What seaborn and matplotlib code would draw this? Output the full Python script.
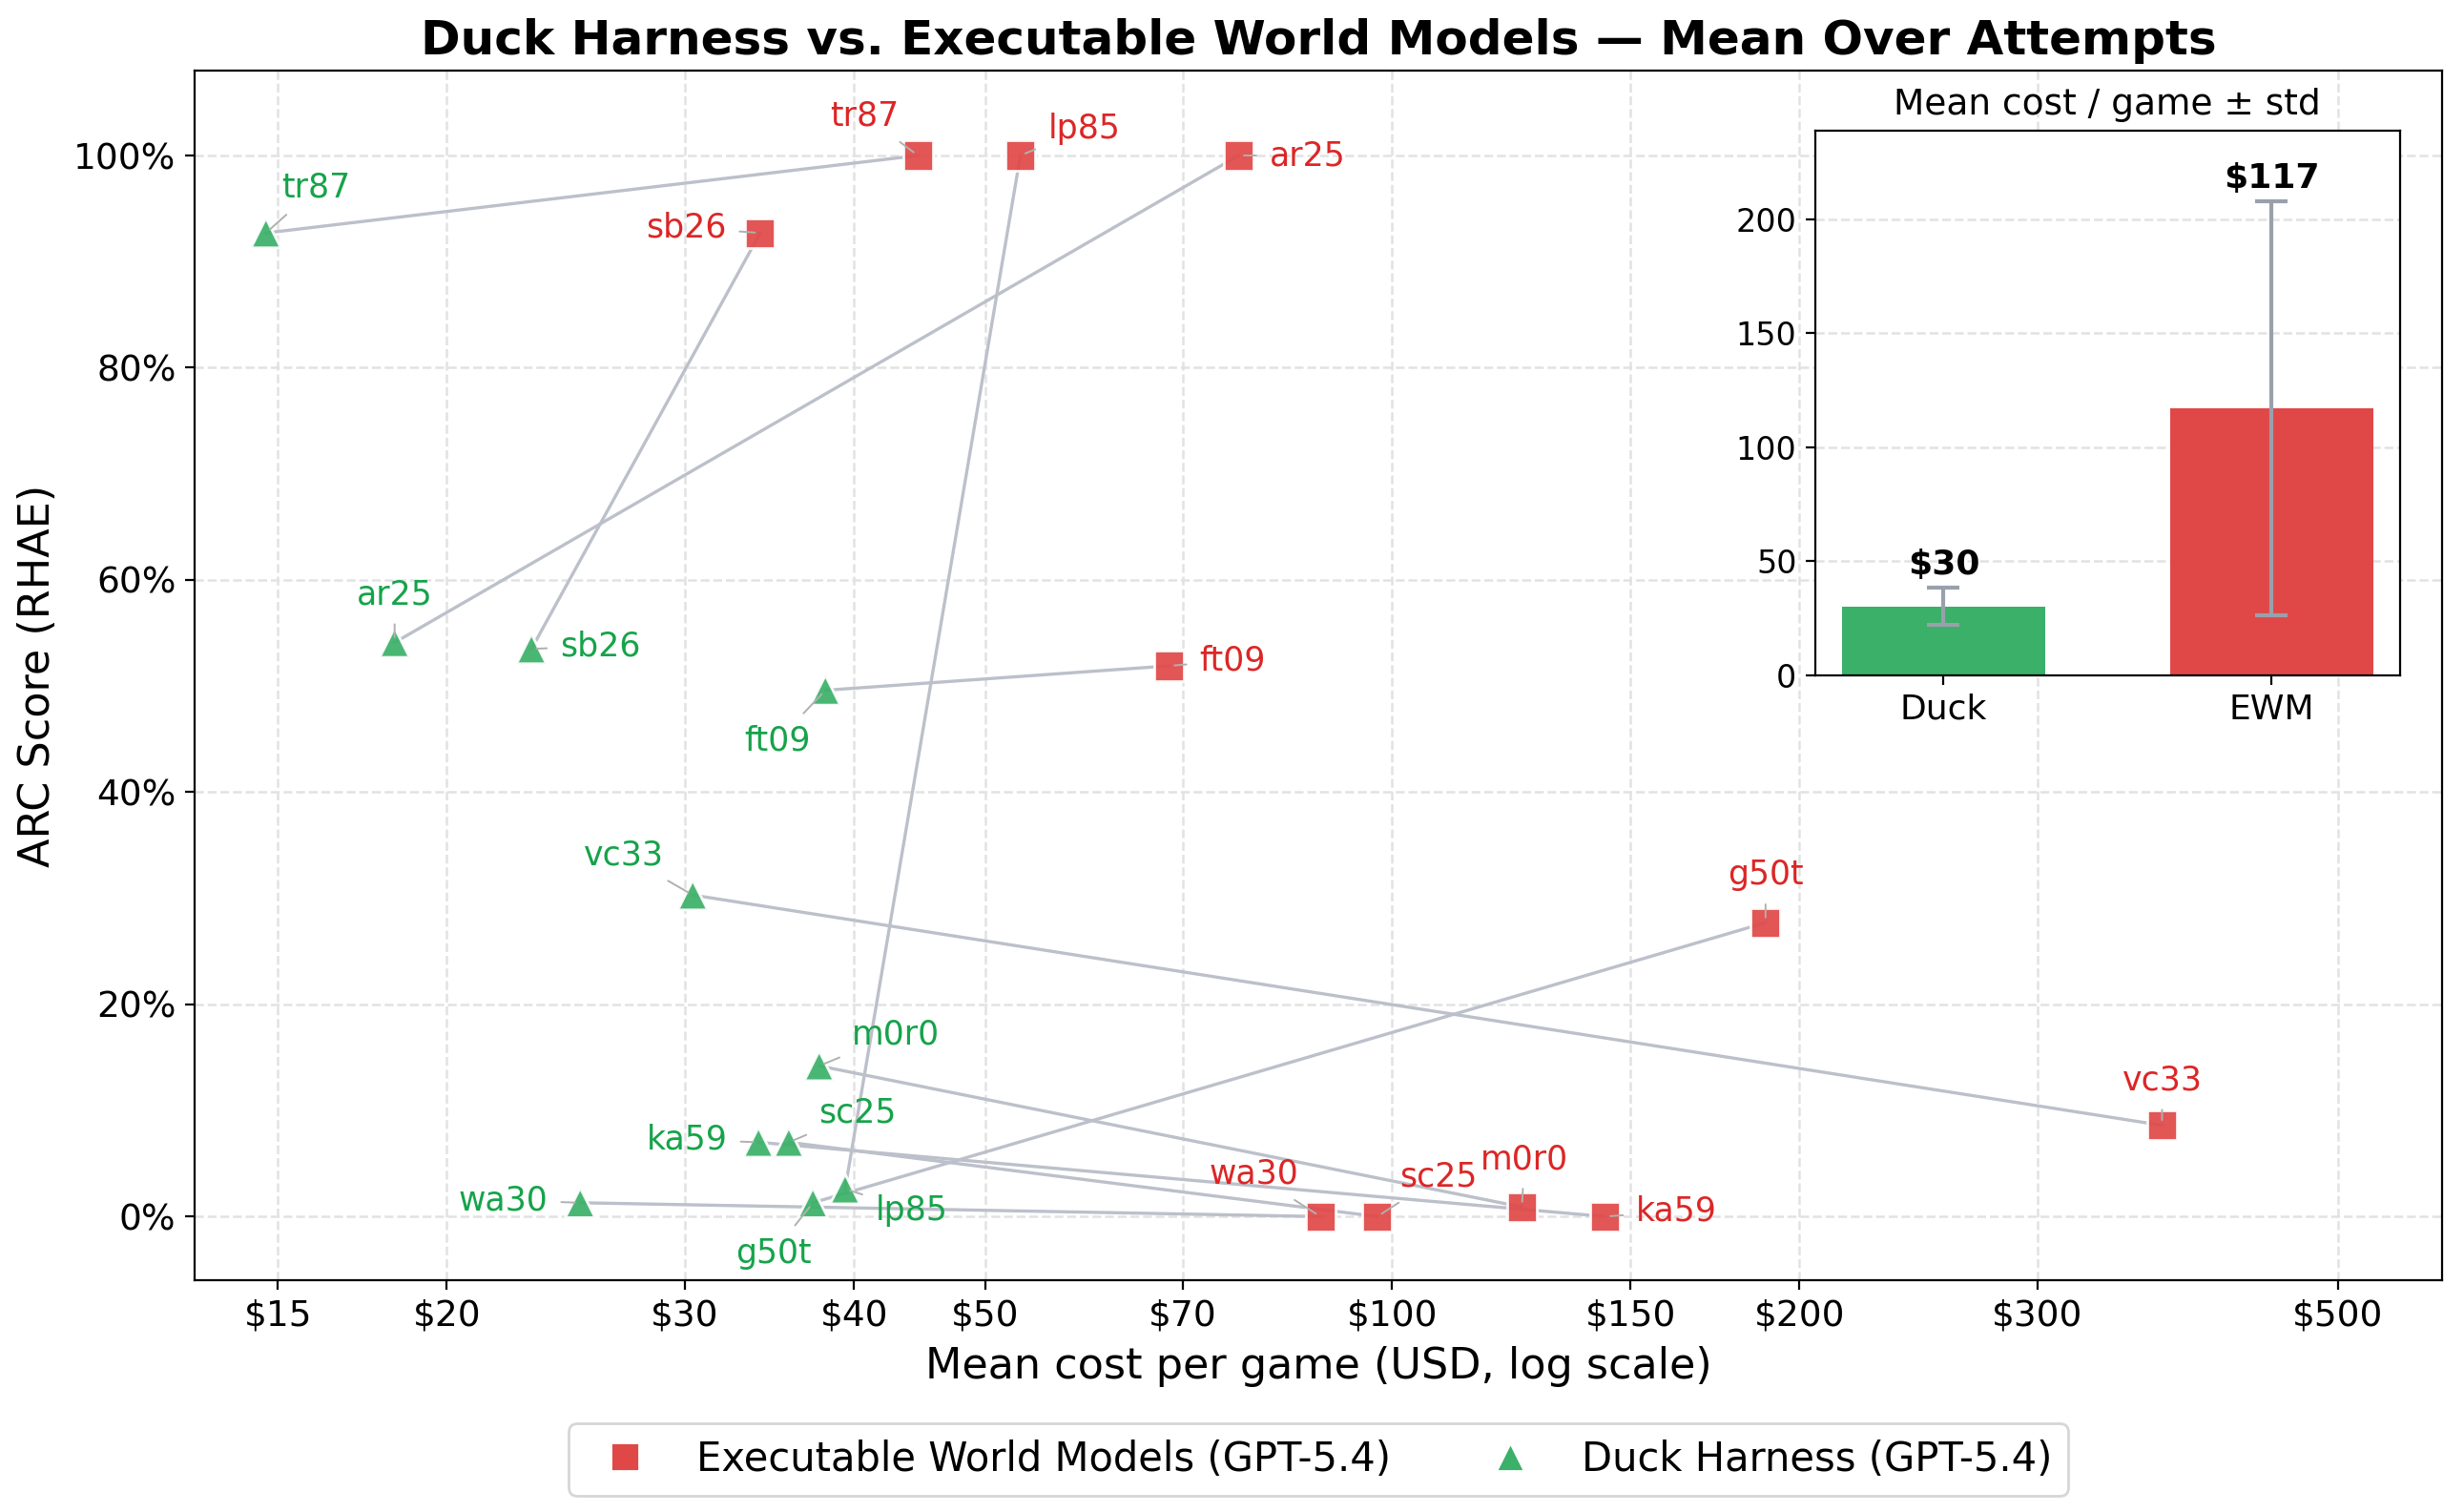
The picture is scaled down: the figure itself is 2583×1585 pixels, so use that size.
import numpy as np
import pandas as pd
import matplotlib
matplotlib.use("Agg")
import matplotlib.pyplot as plt
from matplotlib.lines import Line2D
from matplotlib.ticker import PercentFormatter, NullLocator, FixedLocator, FixedFormatter
import seaborn as sns

# ---------------- data ----------------
games = ["tr87", "lp85", "ar25", "sb26", "ft09", "g50t", "vc33", "wa30", "sc25", "m0r0", "ka59"]
ewm_cost = [44.6, 53.1, 77.0, 34.1, 68.4, 188.8, 370.8, 88.5, 97.5, 124.7, 143.7]
ewm_score = [1.00, 1.00, 1.00, 0.927, 0.519, 0.277, 0.086, 0.0, 0.0, 0.009, 0.0]
duck_cost = [14.7, 39.4, 18.3, 23.1, 38.1, 37.3, 30.4, 25.1, 35.8, 37.7, 34.0]
duck_score = [0.927, 0.026, 0.541, 0.535, 0.496, 0.013, 0.303, 0.013, 0.070, 0.142, 0.070]

bar_labels = ["Duck", "EWM"]
bar_means = [30, 117]
bar_stds = [8.2, 91]

x_ticks = [15, 20, 30, 40, 50, 70, 100, 150, 200, 300, 500]
x_ticklabels = ["$15", "$20", "$30", "$40", "$50", "$70", "$100", "$150", "$200", "$300", "$500"]

# label offsets (points) for annotations
ewm_off = {"tr87": (-20, 15), "lp85": (24, 10), "ar25": (26, 0), "sb26": (-28, 2),
           "ft09": (24, 2), "g50t": (0, 18), "vc33": (0, 17), "wa30": (-25, 16),
           "sc25": (23, 15), "m0r0": (1, 18), "ka59": (27, 2)}
duck_off = {"tr87": (19, 17), "ar25": (0, 18), "sb26": (26, 1), "ft09": (-18, -19),
            "vc33": (-26, 15), "m0r0": (29, 12), "sc25": (26, 11), "ka59": (-27, 1),
            "wa30": (-29, 1), "g50t": (-15, -19), "lp85": (25, -8)}

RED = "#E04848"
GREEN = "#3AB068"
RED_TXT = "#DC2626"
GREEN_TXT = "#16A34A"
LINE = "#BCC0CA"

ewm_name = "Executable World Models (GPT-5.4)"
duck_name = "Duck Harness (GPT-5.4)"

df = pd.DataFrame({
    "game": games + games,
    "cost": ewm_cost + duck_cost,
    "score": ewm_score + duck_score,
    "method": [ewm_name] * len(games) + [duck_name] * len(games),
})

fig = plt.figure(figsize=(2583 / 200, 1585 / 200), dpi=200)
ax = fig.add_axes([0.079, 0.1533, 0.912, 0.800])

# connecting lines
for i, g in enumerate(games):
    ax.plot([duck_cost[i], ewm_cost[i]], [duck_score[i], ewm_score[i]],
            color=LINE, lw=1.2, zorder=1)

sns.scatterplot(data=df, x="cost", y="score", hue="method", style="method",
                markers={ewm_name: "s", duck_name: "^"},
                palette={ewm_name: RED, duck_name: GREEN},
                s=125, edgecolor="white", linewidth=1, alpha=0.92,
                legend=False, ax=ax, zorder=3)

ax.set_xscale("log")
ax.set_xlim(13.02, 597)
ax.set_ylim(-0.06, 1.08)
ax.xaxis.set_major_locator(FixedLocator(x_ticks))
ax.xaxis.set_major_formatter(FixedFormatter(x_ticklabels))
ax.xaxis.set_minor_locator(NullLocator())
ax.set_yticks([0, 0.2, 0.4, 0.6, 0.8, 1.0])
ax.yaxis.set_major_formatter(PercentFormatter(1.0, decimals=0))
ax.tick_params(axis="both", labelsize=13.5)
ax.grid(True, which="major", linestyle="--", color="#E2E2E2", lw=0.9, zorder=0)
ax.set_axisbelow(True)
ax.set_xlabel("Mean cost per game (USD, log scale)", fontsize=16, labelpad=5)
ax.set_ylabel("ARC Score (RHAE)", fontsize=16, labelpad=6)
ax.set_title("Duck Harness vs. Executable World Models — Mean Over Attempts",
             fontsize=18, fontweight="bold")

arrow = dict(arrowstyle="-", color="#B0B0B0", lw=0.7, shrinkA=3, shrinkB=2)
for i, g in enumerate(games):
    ax.annotate(g, xy=(ewm_cost[i], ewm_score[i]), xytext=ewm_off[g],
                textcoords="offset points", ha="center", va="center",
                fontsize=12.5, color=RED_TXT, arrowprops=arrow, zorder=5)
    ax.annotate(g, xy=(duck_cost[i], duck_score[i]), xytext=duck_off[g],
                textcoords="offset points", ha="center", va="center",
                fontsize=12.5, color=GREEN_TXT, arrowprops=arrow, zorder=5)

handles = [
    Line2D([], [], marker="s", linestyle="none", markersize=10.8, color=RED,
           markeredgecolor="white", label=ewm_name),
    Line2D([], [], marker="^", linestyle="none", markersize=10.8, color=GREEN,
           markeredgecolor="white", label=duck_name),
]
ax.legend(handles=handles, loc="upper center", bbox_to_anchor=(0.5, -0.102),
          ncol=2, fontsize=15, frameon=True, edgecolor="#CCCCCC",
          columnspacing=2.0, handletextpad=0.8)

# ---------------- inset ----------------
axi = fig.add_axes([0.7367, 0.5536, 0.2373, 0.360])
bdf = pd.DataFrame({"method": bar_labels, "mean": bar_means})
sns.barplot(data=bdf, x="method", y="mean", hue="method",
            palette={"Duck": GREEN, "EWM": RED}, width=0.62,
            legend=False, ax=axi, saturation=1)
axi.errorbar(range(len(bar_labels)), bar_means, yerr=bar_stds, fmt="none",
             ecolor="#9AA0AB", elinewidth=1.5, capsize=6, capthick=1.5)
for i, (m, s) in enumerate(zip(bar_means, bar_stds)):
    axi.text(i, m + s + 3, f"${m}", ha="center", va="bottom",
             fontsize=13, fontweight="bold")
axi.set_ylim(0, 239)
axi.set_yticks([0, 50, 100, 150, 200])
axi.set_xlabel("")
axi.set_ylabel("")
axi.tick_params(axis="x", labelsize=13)
axi.tick_params(axis="y", labelsize=12)
axi.grid(True, axis="y", linestyle="--", color="#E2E2E2", lw=0.9)
axi.set_axisbelow(True)
axi.set_title("Mean cost / game ± std", fontsize=13.5)

fig.savefig("out.png", dpi=200)
